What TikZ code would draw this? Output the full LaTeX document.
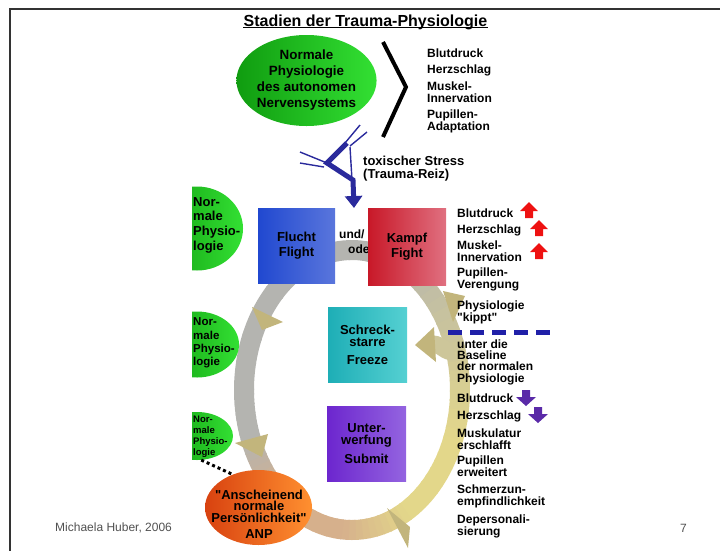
\documentclass[tikz,border=0pt]{standalone}
\usepackage{fontspec}
\setmainfont[Ligatures=TeXOff]{Liberation Sans}
\usetikzlibrary{positioning,shapes.geometric,arrows.meta}

\definecolor{framegray}{HTML}{333333}
\definecolor{ringgray}{HTML}{B4B4B0}
\definecolor{ringkhaki}{HTML}{CDC69A}
\definecolor{ringyellow}{HTML}{E3D78A}
\definecolor{ringtan}{HTML}{D6B08C}
\definecolor{arrkhaki}{HTML}{C2B57C}
\definecolor{greendark}{HTML}{109C10}
\definecolor{greenlight}{HTML}{33E033}
\definecolor{boltblue}{HTML}{2A2A9C}
\definecolor{fluchtA}{HTML}{2048D0}
\definecolor{fluchtB}{HTML}{5A76DC}
\definecolor{kampfA}{HTML}{C81828}
\definecolor{kampfB}{HTML}{E07080}
\definecolor{schreckA}{HTML}{1EAEB6}
\definecolor{schreckB}{HTML}{55D0D2}
\definecolor{unterA}{HTML}{6C26CE}
\definecolor{unterB}{HTML}{9464E0}
\definecolor{anpA}{HTML}{D84210}
\definecolor{anpB}{HTML}{FF9030}
\definecolor{arrred}{HTML}{EE1111}
\definecolor{arrpurple}{HTML}{5A2AA8}
\definecolor{dashblue}{HTML}{2020A8}
\definecolor{footgray}{HTML}{505050}

\tikzset{
  ringband/.style={line width=20pt},
  khakiarr/.style={fill=arrkhaki},
  boxnode/.style={inner sep=0pt, align=center, font=\bfseries\fontsize{13}{15}\selectfont},
  rlist/.style={anchor=west, align=left, inner sep=0pt, font=\bfseries\fontsize{12}{12}\selectfont},
  greenell/.style={ellipse, inner sep=0pt, left color=greendark, right color=greenlight},
  greentext/.style={anchor=west, align=left, inner sep=0pt},
  boltline/.style={draw=boltblue, line width=1.4pt},
  boltthick/.style={draw=boltblue, line width=5pt, line join=miter},
  uparr/.pic={\fill[arrred] (0,-8)--(9,1)--(4,1)--(4,8)--(-4,8)--(-4,1)--(-9,1)--cycle;},
  downarr/.pic={\fill[arrpurple] (0,8)--(10,-1)--(4,-1)--(4,-8)--(-4,-8)--(-4,-1)--(-10,-1)--cycle;}
}

\begin{document}
\begin{tikzpicture}[x=1pt,y=-1pt]
\useasboundingbox (0,0) rectangle (720,550);

% frame
\draw[framegray, line width=2.5pt] (720,9)--(10,9)--(10,551);

% title
\node[inner sep=0pt, anchor=base, font=\bfseries\fontsize{16}{16}\selectfont](title) at (365.5,26){Stadien der Trauma-Physiologie};
\draw[line width=1.2pt] ([yshift=-1.8pt]title.base west)--([yshift=-1.8pt]title.base east);

% ring
\foreach \sa/\ea/\ca/\cb in {180/290/ringgray/ringgray,290/340/ringgray/ringkhaki,340/380/ringkhaki/ringyellow,380/420/ringyellow/ringyellow,420/455/ringyellow/ringtan,455/490/ringtan/ringtan,490/520/ringtan/ringgray,520/540/ringgray/ringgray}{
  \foreach \k in {0,...,9}{
    \pgfmathsetmacro\aa{\sa+(\ea-\sa)*\k/10}
    \pgfmathsetmacro\ab{\sa+(\ea-\sa)*(\k+1)/10+0.6}
    \pgfmathtruncatemacro\pc{95-10*\k}
    \draw[ringband,\ca!\pc!\cb] (352,390) ++(\aa:108 and 140) arc[start angle=\aa,end angle=\ab,x radius=108,y radius=140];
  }
}
\draw[line width=17pt, ringkhaki] (454,351) to[out=200,in=0] (433,344);

\fill[khakiarr] (443,291)--(465,296)--(453,322)--cycle;
\fill[khakiarr] (415,345)--(434,327)--(436,362)--cycle;
\fill[khakiarr] (252,307)--(283,322)--(262,330)--cycle;
\fill[khakiarr] (235,443)--(268,434)--(262,457)--cycle;
\fill[khakiarr] (387,508)--(410,527)--(408,548)--cycle;

% normal physiology, left side
\begin{scope}
\clip (192,0) rectangle (720,550);
\node[greenell, minimum width=92pt, minimum height=84pt](normtop) at (197,228.5){};
\node[greenell, minimum width=84pt, minimum height=66pt](normmid) at (197,344.5){};
\node[greenell, minimum width=72pt, minimum height=48pt](normbot) at (197,436){};
\end{scope}
\node[greentext, font=\bfseries\fontsize{13}{14.7}\selectfont](normtoptext) at (193,225){Nor-\\male\\Physio-\\logie};
\node[greentext, font=\bfseries\fontsize{11.5}{13.3}\selectfont](normmidtext) at (193,343){Nor-\\male\\Physio-\\logie};
\node[greentext, font=\bfseries\fontsize{9.5}{11}\selectfont](normbottext) at (193,436.5){Nor-\\male\\Physio-\\logie};

% stages
\node[boxnode, minimum width=77pt, minimum height=75pt, left color=fluchtA, right color=fluchtB](flucht) at (296.5,245.5){Flucht\\Flight};
\node[anchor=west, align=left, inner sep=0pt, font=\bfseries\fontsize{12}{15}\selectfont](undoder) at (339,242){und/\\\hspace*{9pt}oder};
\node[boxnode, minimum width=78pt, minimum height=77pt, left color=kampfA, right color=kampfB](kampf) at (407,246.5){Kampf\\Fight};
\node[boxnode, font=\bfseries\fontsize{13}{12}\selectfont, minimum width=79pt, minimum height=75pt, left color=schreckA, right color=schreckB](schreck) at (367.5,344.5){Schreck-\\starre\\[6pt]Freeze};
\node[boxnode, font=\bfseries\fontsize{13}{12}\selectfont, minimum width=79pt, minimum height=75pt, left color=unterA, right color=unterB](unterw) at (366.5,443.5){Unter-\\werfung\\[6pt]Submit};

% ANP
\node[ellipse, inner sep=0pt, minimum width=107pt, minimum height=75pt, left color=anpA, right color=anpB](anp) at (258.5,507.5){};
\node[align=center, inner sep=0pt, font=\bfseries\fontsize{13}{11.5}\selectfont](anptext) at (259,514.5){"Anscheinend\\normale\\Persönlichkeit"\\[5pt]ANP};
\draw[line width=3pt, dash pattern=on 3pt off 3pt] (normbot.-80)--(anp.128);

% top
\node[ellipse, inner sep=0pt, minimum width=127pt, minimum height=91pt, left color=greendark, right color=greenlight, align=center, font=\bfseries\fontsize{13.4}{16}\selectfont](normal) at (306.5,80.5){Normale\\Physiologie\\des autonomen\\Nervensystems};
\draw[line width=4pt, line join=miter] (383,42)--(406,87)--(383,137);
\node[rlist](tblut) at (427,53){Blutdruck};
\node[rlist](therz) at (427,70){Herzschlag};
\node[rlist](tmusk) at (427,92.5){Muskel-\\Innervation};
\node[rlist](tpup) at (427,121){Pupillen-\\Adaptation};

% toxic stress
\draw[boltline] (360,125)--(345,143);
\draw[boltline] (367,132)--(350,146);
\draw[boltline] (300,152)--(327,163);
\draw[boltline] (300,163)--(324,167);
\draw[boltline] (350,147)--(352,180);
\draw[boltthick, -{Triangle[width=17pt,length=12pt]}] (347,143)--(327,163)--(353,180)--(354,208);
\node[anchor=west, align=left, inner sep=0pt, font=\bfseries\fontsize{13}{13}\selectfont](stress) at (363,168.5){toxischer Stress\\(Trauma-Reiz)};

% right column
\node[rlist](rblut) at (457,213){Blutdruck};
\node[rlist](rherz) at (457,230){Herzschlag};
\node[rlist](rmusk) at (457,251.5){Muskel-\\Innervation};
\node[rlist](rpup) at (457,279){Pupillen-\\Verengung};
\node[rlist](rkippt) at (457,312){Physiologie\\"kippt"};
\pic at (529,210){uparr};
\pic at (539,228){uparr};
\pic at (539,251){uparr};
\draw[dashblue, line width=5pt, dash pattern=on 13.5pt off 8.5pt] (448,332)--(553,332);
\node[rlist, font=\bfseries\fontsize{12}{11.3}\selectfont](rbase) at (457,362){unter die\\Baseline\\der normalen\\Physiologie};
\node[rlist](rblut2) at (457,398){Blutdruck};
\node[rlist](rherz2) at (457,416){Herzschlag};
\pic at (526,398){downarr};
\pic at (538,415){downarr};
\node[rlist](rmuskul) at (457,439){Muskulatur\\erschlafft};
\node[rlist](rpup2) at (457,466.5){Pupillen\\erweitert};
\node[rlist](rschmerz) at (457,496.5){Schmerzun-\\empfindlichkeit};
\node[rlist](rdeper) at (457,526.5){Depersonali-\\sierung};

% footer
\node[anchor=west, inner sep=0pt, footgray, font=\fontsize{12}{12}\selectfont](author) at (55,528){Michaela Huber, 2006};
\node[anchor=west, inner sep=0pt, footgray, font=\fontsize{12}{12}\selectfont](pagenum) at (680,528){7};
\end{tikzpicture}
\end{document}
